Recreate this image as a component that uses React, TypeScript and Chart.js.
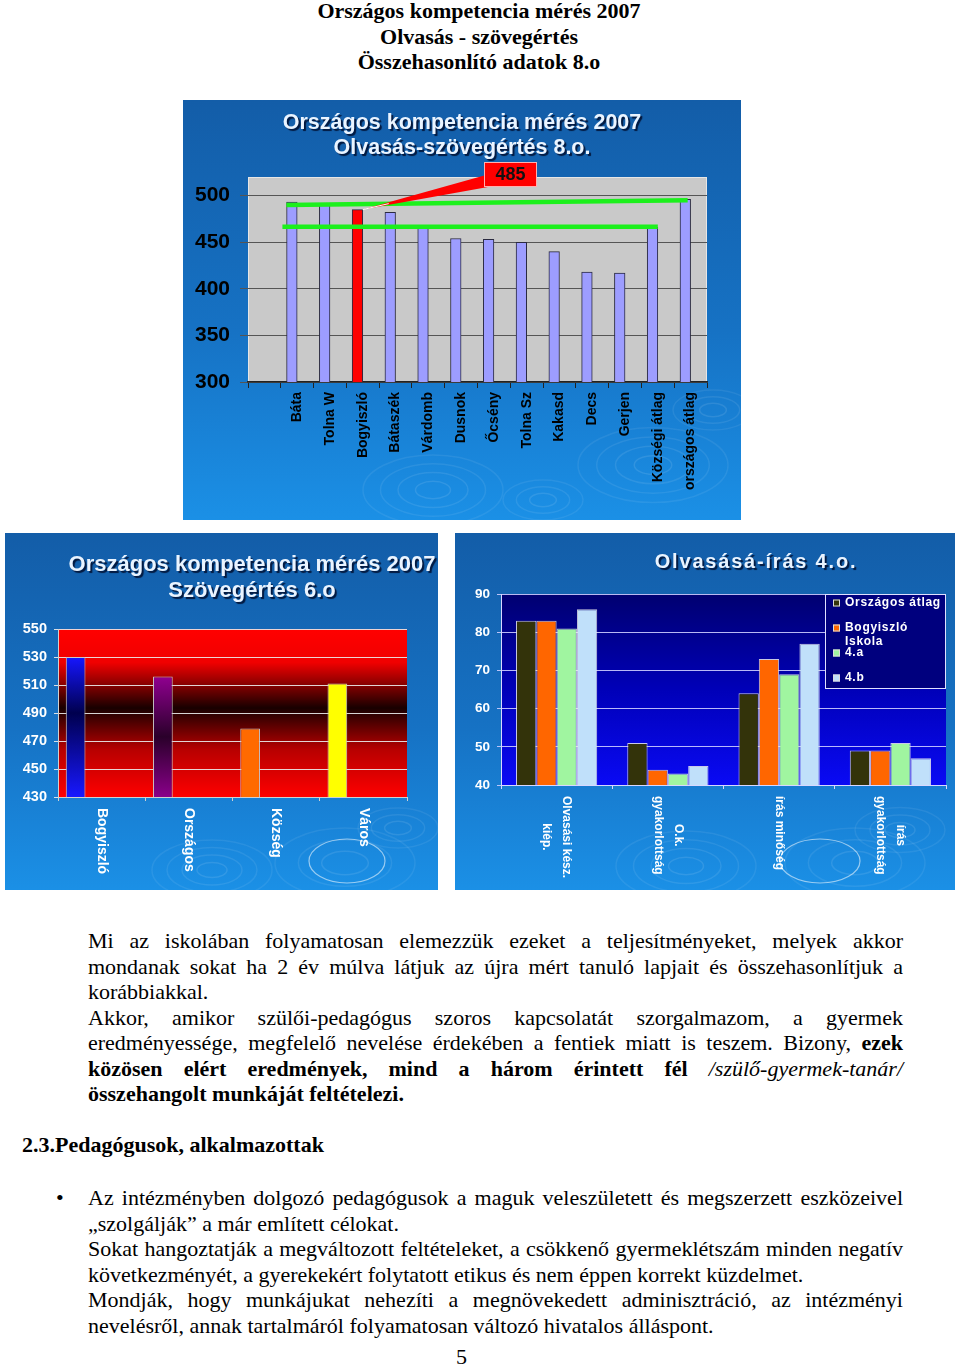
import React, { useEffect, useRef } from 'react';
import { Chart, registerables } from 'chart.js';

Chart.register(...registerables);

// ---------------- DATA ----------------
// Chart 1 – Olvasás-szövegértés 8.o.
const c1Title = ['Országos kompetencia mérés 2007', 'Olvasás-szövegértés 8.o.'];
const c1Categories = ['', 'Báta', 'Tolna W', 'Bogyiszló', 'Bátaszék', 'Várdomb', 'Dusnok', 'Őcsény', 'Tolna Sz', 'Kakasd', 'Decs', 'Gerjen', 'Községi átlag', 'országos átlag'];
const c1Values: (number | null)[] = [null, 493, 491, 485, 482, 466, 454, 453, 450, 440, 418, 417, 466, 496];
const c1Highlight = 'Bogyiszló';
const c1UpperLine = [{ x: 1.17, y: 490 }, { x: 13.41, y: 495 }];
const c1LowerLine = [{ x: 1.05, y: 466.5 }, { x: 12.5, y: 466.5 }];
const c1YMin = 300;
const c1YMax = 520;
const c1YStep = 50;

// Chart 2 – Szövegértés 6.o
const c2Title = ['Országos kompetencia mérés 2007', 'Szövegértés 6.o'];
const c2Categories = ['Bogyiszló', 'Országos', 'Község', 'Város'];
const c2Values = [530, 516, 479, 511];
const c2YMin = 430;
const c2YMax = 550;
const c2YStep = 20;

// Chart 3 – Olvasásá-írás 4.o.
const c3Title = 'Olvasásá-írás 4.o.';
const c3Categories = [['Olvasási kész.', 'kiép.'], ['O.k.', 'gyakorlottság'], ['írás minőség'], ['írás', 'gyakorlottság']];
const c3SeriesNames = ['Országos átlag', 'Bogyiszló Iskola', '4.a', '4.b'];
const c3Orszagos = [83, 51, 64, 49];
const c3Bogyiszlo = [83, 44, 73, 49];
const c3A = [81, 43, 69, 51];
const c3B = [86, 45, 77, 47];
const c3YMin = 40;
const c3YMax = 90;
const c3YStep = 5;

// Document text
const docHeading = ['Országos kompetencia mérés 2007', 'Olvasás - szövegértés', 'Összehasonlító adatok 8.o'];

// ---------------- STYLES ----------------
const SANS = "'Liberation Sans', Arial, Helvetica, sans-serif";
const SERIF = "'Liberation Serif', 'Times New Roman', Times, serif";
const c2BarColors = [
  ['#1616ff', '#00004e', '#1818ff', 0.4],
  ['#900090', '#2a002a', '#8a008a', 0.5],
  ['#ff6a00'],
  ['#ffff00'],
];
const c3Colors = ['#33330a', '#ff6600', '#a0f5a0', '#c0e0fa'];

type Ripple = { x: number; y: number; r: number; rings: number };

function paintPanel(ctx: CanvasRenderingContext2D, w: number, h: number, ripples: Ripple[]) {
  const g = ctx.createLinearGradient(0, 0, 0, h);
  g.addColorStop(0, '#135da8');
  g.addColorStop(0.55, '#1672c4');
  g.addColorStop(1, '#1b90e6');
  ctx.fillStyle = g;
  ctx.fillRect(0, 0, w, h);
  ctx.save();
  ctx.lineWidth = 1.5;
  ripples.forEach((rp) => {
    for (let k = 1; k <= rp.rings; k++) {
      const r = (rp.r * k) / rp.rings;
      ctx.strokeStyle = `rgba(255,255,255,${0.07 + 0.04 * (rp.rings - k) / rp.rings})`;
      ctx.beginPath();
      ctx.ellipse(rp.x, rp.y, r, r * 0.5, 0, 0, Math.PI * 2);
      ctx.stroke();
    }
  });
  ctx.restore();
}

function drawTitle(ctx: CanvasRenderingContext2D, lines: string[], cx: number, ys: number[], font: string, spacing = '0px') {
  ctx.save();
  ctx.font = font;
  (ctx as any).letterSpacing = spacing;
  ctx.textAlign = 'center';
  ctx.textBaseline = 'middle';
  ctx.shadowColor = 'rgba(0,15,50,0.9)';
  ctx.shadowOffsetX = 2;
  ctx.shadowOffsetY = 2;
  ctx.shadowBlur = 1;
  ctx.fillStyle = '#eaf4ff';
  lines.forEach((l, i) => ctx.fillText(l, cx, ys[i]));
  ctx.restore();
}

function drawDownLabels(chart: any, labels: string[][], font: string, gap: number, lineGap: number, spacing = '0px') {
  const ctx: CanvasRenderingContext2D = chart.ctx;
  const xs = chart.scales.x;
  const top = chart.chartArea.bottom + gap;
  ctx.save();
  ctx.font = font;
  (ctx as any).letterSpacing = spacing;
  ctx.fillStyle = '#ffffff';
  ctx.textAlign = 'center';
  ctx.textBaseline = 'middle';
  labels.forEach((lines, i) => {
    const cx = xs.getPixelForValue(i);
    const maxW = Math.max(...lines.map((l) => ctx.measureText(l).width));
    lines.forEach((line, j) => {
      const off = ((lines.length - 1) / 2 - j) * lineGap;
      ctx.save();
      ctx.translate(cx + off, top);
      ctx.rotate(Math.PI / 2);
      ctx.fillText(line, maxW / 2, 0);
      ctx.restore();
    });
  });
  ctx.restore();
}

// ---------------- CHART HOST ----------------
function ChartCanvas({ left, top, width, height, build }: { left: number; top: number; width: number; height: number; build: () => any }) {
  const ref = useRef<HTMLCanvasElement | null>(null);
  useEffect(() => {
    if (!ref.current) return;
    const chart = new Chart(ref.current, build());
    return () => chart.destroy();
  }, []);
  return <canvas ref={ref} width={width} height={height} style={{ position: 'absolute', left, top, width, height, display: 'block' }} />;
}

// ---------------- CHART 1 ----------------
function buildChart1() {
  const W = 558, H = 420;
  const ripples: Ripple[] = [
    { x: 530, y: 310, r: 40, rings: 3 },
    { x: 470, y: 365, r: 75, rings: 4 },
    { x: 250, y: 390, r: 70, rings: 4 },
    { x: 360, y: 400, r: 40, rings: 3 },
  ];
  const barIndex = 2;
  const plugin = {
    id: 'c1decor',
    beforeDraw(chart: any) {
      const ctx = chart.ctx;
      const ca = chart.chartArea;
      paintPanel(ctx, W, H, ripples);
      ctx.save();
      ctx.fillStyle = '#c9c9c9';
      ctx.fillRect(ca.left, ca.top, ca.right - ca.left, ca.bottom - ca.top);
      ctx.strokeStyle = '#e6e6e6';
      ctx.lineWidth = 1;
      ctx.strokeRect(ca.left + 0.5, ca.top + 0.5, ca.right - ca.left - 1, ca.bottom - ca.top - 1);
      ctx.restore();
      drawTitle(ctx, c1Title, W / 2, [23, 48], `bold 21.5px ${SANS}`);
    },
    afterDatasetsDraw(chart: any) {
      const ctx: CanvasRenderingContext2D = chart.ctx;
      const ca = chart.chartArea;
      const idx = c1Categories.indexOf(c1Highlight);
      const bar = chart.getDatasetMeta(barIndex).data[idx];
      const tipX = bar.x + bar.width / 2;
      const tipY = bar.y;
      const bx = ca.left + 236, by = ca.top - 15, bw = 53, bh = 25;
      ctx.save();
      ctx.fillStyle = '#ff0000';
      ctx.beginPath();
      ctx.moveTo(tipX, tipY);
      ctx.lineTo(bx + 2, by + 13);
      ctx.lineTo(bx + 4, by + bh);
      ctx.closePath();
      ctx.fill();
      ctx.strokeStyle = '#ffffff';
      ctx.lineWidth = 1;
      ctx.beginPath();
      ctx.moveTo(tipX, tipY);
      ctx.lineTo(tipX + 26, tipY - 6);
      ctx.stroke();
      ctx.fillStyle = '#ff0000';
      ctx.fillRect(bx, by, bw, bh);
      ctx.strokeStyle = '#ffb0b0';
      ctx.strokeRect(bx + 0.5, by + 0.5, bw - 1, bh - 1);
      ctx.fillStyle = '#111';
      ctx.font = `bold 18px ${SANS}`;
      ctx.textAlign = 'center';
      ctx.textBaseline = 'middle';
      ctx.fillText(String(c1Values[idx]), bx + bw / 2, by + bh / 2 + 1);
      ctx.restore();
    },
  };
  return {
    type: 'bar',
    data: {
      labels: c1Categories,
      datasets: [
        { type: 'line', xAxisID: 'x2', data: c1UpperLine, borderColor: '#1cf01c', borderWidth: 4.5, pointRadius: 0, order: 0 },
        { type: 'line', xAxisID: 'x2', data: c1LowerLine, borderColor: '#1cf01c', borderWidth: 4.5, pointRadius: 0, order: 0 },
        {
          type: 'bar',
          xAxisID: 'x',
          data: c1Values,
          backgroundColor: c1Categories.map((c) => (c === c1Highlight ? '#ff0000' : '#9d9dff')),
          borderColor: '#2a2a40',
          borderWidth: 1,
          barThickness: 10.6,
          order: 1,
        },
        { type: 'bar', xAxisID: 'x', data: c1Values.map(() => null), barThickness: 10.6, order: 2 },
      ],
    },
    options: {
      animation: false,
      responsive: false,
      events: [],
      layout: { padding: { top: 77, right: 34, left: 0, bottom: 0 } },
      plugins: { legend: { display: false }, tooltip: { enabled: false }, title: { display: false } },
      scales: {
        x: {
          type: 'category',
          offset: true,
          grid: { offset: true, drawOnChartArea: false, drawTicks: true, tickLength: 6, color: '#222' },
          border: { color: '#222', width: 1.5 },
          ticks: { color: '#000', font: { family: SANS, weight: 'bold', size: 14 }, minRotation: 90, maxRotation: 90, autoSkip: false, padding: 4 },
          afterFit: (s: any) => { s.height = 138; },
        },
        x2: { type: 'linear', display: false, offset: false, min: 0, max: c1Categories.length, grid: { offset: false } },
        y: {
          min: c1YMin,
          max: c1YMax,
          ticks: { stepSize: c1YStep, includeBounds: false, color: '#000', font: { family: SANS, weight: 'bold', size: 21 }, padding: 10 },
          grid: { color: '#555', lineWidth: 1, tickLength: 8 },
          border: { display: false },
          afterFit: (s: any) => { s.width = 65; },
        },
      },
    },
    plugins: [plugin],
  };
}

// ---------------- CHART 2 ----------------
function buildChart2() {
  const W = 433, H = 357;
  const ripples: Ripple[] = [
    { x: 393, y: 295, r: 40, rings: 3 },
    { x: 207, y: 337, r: 60, rings: 4 },
    { x: 340, y: 330, r: 70, rings: 3 },
  ];
  const plugin = {
    id: 'c2decor',
    beforeDraw(chart: any) {
      const ctx = chart.ctx;
      const ca = chart.chartArea;
      paintPanel(ctx, W, H, ripples);
      ctx.save();
      const g = ctx.createLinearGradient(0, ca.top, 0, ca.bottom);
      g.addColorStop(0, '#ff0000');
      g.addColorStop(0.2, '#f00000');
      g.addColorStop(0.47, '#180000');
      g.addColorStop(0.72, '#b80000');
      g.addColorStop(1, '#ff0000');
      ctx.fillStyle = g;
      ctx.fillRect(ca.left, ca.top, ca.right - ca.left, ca.bottom - ca.top);
      ctx.restore();
      ctx.save();
      ctx.beginPath();
      ctx.ellipse(342, 328, 38, 22, 0, 0, Math.PI * 2);
      ctx.strokeStyle = 'rgba(255,255,255,0.55)';
      ctx.lineWidth = 1.2;
      ctx.stroke();
      ctx.restore();
      drawTitle(ctx, c2Title, 247, [32, 58], `bold 22px ${SANS}`);
    },
    afterDraw(chart: any) {
      drawDownLabels(chart, c2Categories.map((c) => [c]), `bold 14px ${SANS}`, 11, 20);
    },
  };
  const gradientFill = (c: any) => {
    const cols = c2BarColors[c.dataIndex] as any[];
    if (!cols) return '#fff';
    if (cols.length === 1) return cols[0];
    const chart = c.chart;
    const ys = chart.scales?.y;
    if (!chart.chartArea || !ys || c.raw == null) return cols[0];
    const top = ys.getPixelForValue(c.raw);
    const bot = ys.getPixelForValue(ys.min);
    const g = chart.ctx.createLinearGradient(0, top, 0, bot);
    g.addColorStop(0, cols[0]);
    g.addColorStop(cols[3], cols[1]);
    g.addColorStop(1, cols[2]);
    return g;
  };
  return {
    type: 'bar',
    data: {
      labels: c2Categories,
      datasets: [
        { data: c2Values, backgroundColor: gradientFill, borderColor: '#c8c8c8', borderWidth: 1, categoryPercentage: 0.894, barPercentage: 0.757 },
        { data: c2Values.map(() => null), categoryPercentage: 0.894, barPercentage: 0.757 },
        { data: c2Values.map(() => null), categoryPercentage: 0.894, barPercentage: 0.757 },
      ],
    },
    options: {
      animation: false,
      responsive: false,
      events: [],
      layout: { padding: { top: 96, right: 31, left: 0, bottom: 0 } },
      plugins: { legend: { display: false }, tooltip: { enabled: false }, title: { display: false } },
      scales: {
        x: {
          type: 'category',
          offset: true,
          grid: { offset: true, drawOnChartArea: false, drawTicks: true, tickLength: 4, color: '#d0d0d0' },
          border: { color: '#d0d0d0' },
          ticks: { display: false },
          afterFit: (s: any) => { s.height = 93; },
        },
        y: {
          min: c2YMin,
          max: c2YMax,
          ticks: { stepSize: c2YStep, color: '#ffffff', font: { family: SANS, weight: 'bold', size: 14.5 }, padding: 7 },
          grid: { color: 'rgba(235,235,235,0.9)', lineWidth: 1, tickLength: 4 },
          border: { color: '#d0d0d0' },
          afterFit: (s: any) => { s.width = 53; },
        },
      },
    },
    plugins: [plugin],
  };
}

// ---------------- CHART 3 ----------------
function buildChart3() {
  const W = 500, H = 357;
  const ripples: Ripple[] = [
    { x: 445, y: 297, r: 45, rings: 3 },
    { x: 231, y: 333, r: 70, rings: 4 },
    { x: 400, y: 330, r: 70, rings: 3 },
  ];
  const series = [c3Orszagos, c3Bogyiszlo, c3A, c3B];
  const plugin = {
    id: 'c3decor',
    beforeDraw(chart: any) {
      const ctx = chart.ctx;
      const ca = chart.chartArea;
      paintPanel(ctx, W, H, ripples);
      ctx.save();
      const g = ctx.createLinearGradient(0, ca.top, 0, ca.bottom);
      g.addColorStop(0, '#000070');
      g.addColorStop(0.5, '#0000b8');
      g.addColorStop(1, '#0a0af4');
      ctx.fillStyle = g;
      ctx.fillRect(ca.left, ca.top, ca.right - ca.left, ca.bottom - ca.top);
      ctx.restore();
      ctx.save();
      ctx.beginPath();
      ctx.ellipse(365, 328, 40, 22, 0, 0, Math.PI * 2);
      ctx.strokeStyle = 'rgba(255,255,255,0.55)';
      ctx.lineWidth = 1.2;
      ctx.stroke();
      ctx.restore();
      drawTitle(ctx, [c3Title], 301, [29], `bold 20px ${SANS}`, '1.8px');
    },
    afterDraw(chart: any) {
      const ctx: CanvasRenderingContext2D = chart.ctx;
      const ca = chart.chartArea;
      drawDownLabels(chart, c3Categories, `bold 12px ${SANS}`, 11, 20);
      // legend
      const bw = 121, bh = 95;
      const bx = ca.right - bw, by = ca.top;
      ctx.save();
      ctx.fillStyle = '#00007e';
      ctx.fillRect(bx, by, bw, bh);
      ctx.strokeStyle = '#e0e0ff';
      ctx.lineWidth = 1;
      ctx.strokeRect(bx + 0.5, by + 0.5, bw - 1, bh - 1);
      ctx.font = `bold 12px ${SANS}`;
      (ctx as any).letterSpacing = '0.7px';
      ctx.textBaseline = 'middle';
      ctx.textAlign = 'left';
      chart.data.datasets.forEach((ds: any, i: number) => {
        const cy = by + 9 + 25 * i;
        ctx.fillStyle = ds.backgroundColor;
        ctx.fillRect(bx + 8, cy - 3.5, 7, 7);
        ctx.strokeStyle = '#dddddd';
        ctx.strokeRect(bx + 8.5, cy - 3, 6, 6);
        ctx.fillStyle = '#ffffff';
        const words = String(ds.label).split(' ');
        const lines: string[] = [];
        let cur = '';
        words.forEach((w) => {
          const t = cur ? cur + ' ' + w : w;
          if (cur && ctx.measureText(t).width > 100) { lines.push(cur); cur = w; } else cur = t;
        });
        lines.push(cur);
        lines.forEach((l, j) => ctx.fillText(l, bx + 20, cy + j * 14));
      });
      ctx.restore();
    },
  };
  return {
    type: 'bar',
    data: {
      labels: c3Categories.map((c) => c.join(' ')),
      datasets: series.map((d, i) => ({
        label: c3SeriesNames[i],
        data: d,
        backgroundColor: c3Colors[i],
        borderColor: 'rgba(235,235,235,0.85)',
        borderWidth: 1,
        categoryPercentage: 0.73,
        barPercentage: 1,
      })),
    },
    options: {
      animation: false,
      responsive: false,
      events: [],
      layout: { padding: { top: 61, right: 9, left: 0, bottom: 0 } },
      plugins: { legend: { display: false }, tooltip: { enabled: false }, title: { display: false } },
      scales: {
        x: {
          type: 'category',
          offset: true,
          grid: { offset: true, drawOnChartArea: false, drawTicks: true, tickLength: 4, color: '#d8d8ff' },
          border: { color: '#d8d8ff' },
          ticks: { display: false },
          afterFit: (s: any) => { s.height = 105; },
        },
        y: {
          min: c3YMin,
          max: c3YMax,
          ticks: { stepSize: c3YStep, color: '#ffffff', font: { family: SANS, weight: 'bold', size: 13.5 }, padding: 7 },
          grid: { color: 'rgba(205,205,255,0.9)', lineWidth: 1, tickLength: 4 },
          border: { color: '#d8d8ff' },
          afterFit: (s: any) => { s.width = 46; },
        },
      },
    },
    plugins: [plugin],
  };
}

// ---------------- TEXT ----------------
type Line = { node: React.ReactNode; justify: boolean };

const p1Lines: Line[] = [
  { node: 'Mi az iskolában folyamatosan elemezzük ezeket a teljesítményeket, melyek akkor', justify: true },
  { node: 'mondanak sokat ha 2 év múlva látjuk az újra mért tanuló lapjait és összehasonlítjuk a', justify: true },
  { node: 'korábbiakkal.', justify: false },
  { node: 'Akkor, amikor szülői-pedagógus szoros kapcsolatát szorgalmazom, a gyermek', justify: true },
  { node: <>eredményessége, megfelelő nevelése érdekében a fentiek miatt is teszem. Bizony, <b>ezek</b></>, justify: true },
  { node: <><b>közösen elért eredmények, mind a három érintett fél</b> <i>/szülő-gyermek-tanár/</i></>, justify: true },
  { node: <b>összehangolt munkáját feltételezi.</b>, justify: false },
];

const p2Lines: Line[] = [
  { node: 'Az intézményben dolgozó pedagógusok a maguk veleszületett és megszerzett eszközeivel', justify: true },
  { node: '„szolgálják” a már említett célokat.', justify: false },
  { node: 'Sokat hangoztatják a megváltozott feltételeket, a csökkenő gyermeklétszám minden negatív', justify: true },
  { node: 'következményét, a gyerekekért folytatott etikus és nem éppen korrekt küzdelmet.', justify: false },
  { node: 'Mondják, hogy munkájukat nehezíti a megnövekedett adminisztráció, az intézményi', justify: true },
  { node: 'nevelésről, annak tartalmáról folyamatosan változó hivatalos álláspont.', justify: false },
];

function TextBlock({ top, lines }: { top: number; lines: Line[] }) {
  return (
    <div style={{ position: 'absolute', left: 88, top, width: 815, fontSize: 22, lineHeight: '25.5px' }}>
      {lines.map((l, i) => (
        <div key={i} style={{ whiteSpace: 'nowrap', textAlign: l.justify ? 'justify' : 'left', textAlignLast: l.justify ? 'justify' : 'left' } as any}>
          {l.node}
        </div>
      ))}
    </div>
  );
}

export default function App() {
  return (
    <div style={{ position: 'absolute', left: 0, top: 0, width: 960, height: 1368, background: '#ffffff', overflow: 'hidden', fontFamily: SERIF, color: '#000' }}>
      <div style={{ position: 'absolute', left: 0, top: -2, width: 958, textAlign: 'center', fontWeight: 'bold', fontSize: 22, lineHeight: '25.5px' }}>
        {docHeading.map((l) => (
          <div key={l}>{l}</div>
        ))}
      </div>
      <ChartCanvas left={183} top={100} width={558} height={420} build={buildChart1} />
      <ChartCanvas left={5} top={533} width={433} height={357} build={buildChart2} />
      <ChartCanvas left={455} top={533} width={500} height={357} build={buildChart3} />
      <TextBlock top={928} lines={p1Lines} />
      <div style={{ position: 'absolute', left: 22, top: 1132, fontSize: 22, lineHeight: '25.5px', fontWeight: 'bold' }}>2.3.Pedagógusok, alkalmazottak</div>
      <div style={{ position: 'absolute', left: 56, top: 1185, fontSize: 22, lineHeight: '25.5px' }}>•</div>
      <TextBlock top={1185} lines={p2Lines} />
      <div style={{ position: 'absolute', left: 456, top: 1344, fontSize: 22, lineHeight: '25.5px' }}>5</div>
    </div>
  );
}
